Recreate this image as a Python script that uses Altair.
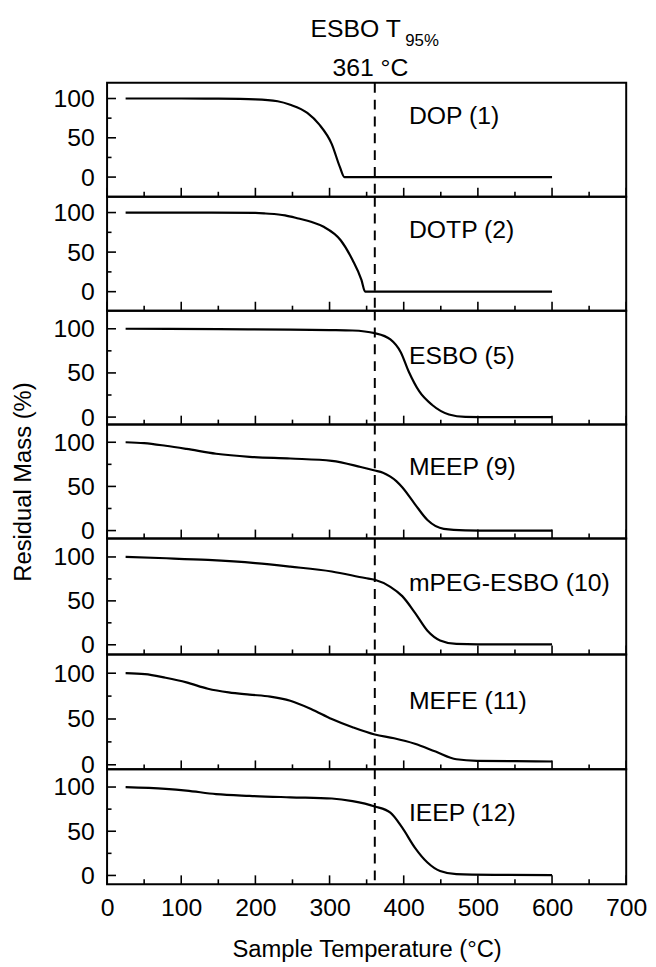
import altair as alt
import pandas as pd

FONT = "Liberation Sans"

# ---- data ----
NAMES = ["DOP (1)", "DOTP (2)", "ESBO (5)", "MEEP (9)", "mPEG-ESBO (10)", "MEFE (11)", "IEEP (12)"]

DOP_T = [25, 100, 150, 200, 230, 247, 270, 286, 303, 314, 320, 360, 450, 600]
DOP_M = [100, 100, 99.8, 99, 96.5, 92, 81.6, 67, 42, 12.6, 0, 0, 0, 0]

DOTP_T = [25, 100, 200, 214, 240, 258, 276, 292, 315, 331, 343, 348, 400, 500, 600]
DOTP_M = [100, 100, 99.5, 98.8, 96.5, 92.5, 88, 82, 65, 40, 15, 0, 0, 0, 0]

ESBO_T = [25, 150, 247, 300, 331, 361, 382, 396, 407, 421, 438, 461, 483, 520, 600]
ESBO_M = [100, 99.5, 99, 98.5, 98, 95, 88, 73.5, 51, 29, 14, 3, 0.3, 0, 0]

MEEP_T = [25, 50, 79, 107, 147, 192, 247, 303, 342, 361, 372, 382, 390, 398, 415, 432, 454, 483, 520, 600]
MEEP_M = [100, 99, 96, 92.5, 87, 83.5, 81.6, 79, 72, 68, 65.5, 61, 56, 49, 30, 12, 2, 0.3, 0, 0]

MPEG_T = [25, 80, 136, 200, 247, 303, 348, 361, 382, 398, 415, 432, 449, 471, 500, 600]
MPEG_M = [100, 98.5, 96.6, 93, 89, 83.5, 76, 74, 66, 55.4, 36.7, 16, 5, 1, 0.5, 0.5]

MEFE_T = [25, 51, 79, 107, 136, 164, 192, 220, 247, 275, 303, 331, 361, 387, 415, 443, 471, 499, 550, 600]
MEFE_M = [100, 99, 95, 90, 83, 79, 76.6, 74.5, 70, 61, 50, 41, 33, 29, 23, 14.4, 6, 4.3, 4, 3.6]

IEEP_T = [25, 79, 107, 147, 192, 247, 303, 331, 361, 382, 398, 415, 432, 449, 471, 527, 600]
IEEP_M = [100, 98, 96, 92, 90, 88.4, 87, 84, 78, 71, 54, 31.5, 14.6, 5, 1.5, 0.7, 0.4]

SERIES_T = [DOP_T, DOTP_T, ESBO_T, MEEP_T, MPEG_T, MEFE_T, IEEP_T]
SERIES_M = [DOP_M, DOTP_M, ESBO_M, MEEP_M, MPEG_M, MEFE_M, IEEP_M]

Y_DOMAINS = [[-25, 120], [-24, 120], [-8.5, 120.5], [-9, 120], [-11, 121], [-5, 120.5], [-10, 120]]
PANEL_H = [115, 115, 115, 115, 117, 116, 116]
LABEL_X = 407
LABEL_Y = [67, 67.5, 60.4, 62.4, 61, 61.2, 61.8]

T95 = 361
X_DOMAIN = [0, 700]
X_MAJOR = [0, 100, 200, 300, 400, 500, 600, 700]
X_MINOR = [50, 150, 250, 350, 450, 550, 650]
Y_MAJOR = [0, 50, 100]
Y_MINOR = [25, 75]

W = 524


def panel(i):
    h = PANEL_H[i]
    xs = alt.Scale(domain=X_DOMAIN, nice=False, zero=False)
    ys = alt.Scale(domain=Y_DOMAINS[i], nice=False, zero=False)
    df = pd.DataFrame({"T": SERIES_T[i], "M": SERIES_M[i]})

    last = i == len(NAMES) - 1
    if last:
        xaxis = alt.Axis(values=X_MAJOR, ticks=False, tickSize=0, domain=False, grid=False,
                         labelPadding=12, title="Sample Temperature (°C)", titlePadding=17,
                         labelFlush=False, labelFont=FONT, labelFontSize=25, labelColor="black",
                         titleFont=FONT, titleFontSize=24, titleColor="black",
                         titleFontWeight="normal")
    else:
        xaxis = None
    yaxis = alt.Axis(values=Y_MAJOR, ticks=False, tickSize=0, domain=False, grid=False,
                     labelPadding=13, title="Residual Mass (%)" if i == 3 else None,
                     titlePadding=18, labelFont=FONT, labelFontSize=25, labelColor="black",
                     titleFont=FONT, titleFontSize=24, titleColor="black",
                     titleFontWeight="normal")

    def X(field):
        return alt.X(field, scale=xs, axis=xaxis)

    def Y(field):
        return alt.Y(field, scale=ys, axis=yaxis)

    line = alt.Chart(df).mark_line(color="black", strokeWidth=2.2, interpolate="monotone").encode(
        x=X("T:Q"), y=Y("M:Q"),
    )
    vline = alt.Chart(pd.DataFrame({"T": [T95]})).mark_rule(
        color="black", strokeWidth=2, strokeDash=[10, 7]
    ).encode(x=X("T:Q"))

    xmaj = alt.Chart(pd.DataFrame({"T": X_MAJOR})).mark_rule(color="black", strokeWidth=1.6).encode(
        x=X("T:Q"), y=alt.value(h), y2=alt.value(h - 9))
    xmin = alt.Chart(pd.DataFrame({"T": X_MINOR})).mark_rule(color="black", strokeWidth=1.6).encode(
        x=X("T:Q"), y=alt.value(h), y2=alt.value(h - 5))
    ymaj = alt.Chart(pd.DataFrame({"M": Y_MAJOR})).mark_rule(color="black", strokeWidth=1.6).encode(
        y=Y("M:Q"), x=alt.value(0), x2=alt.value(9))
    ymin = alt.Chart(pd.DataFrame({"M": Y_MINOR})).mark_rule(color="black", strokeWidth=1.6).encode(
        y=Y("M:Q"), x=alt.value(0), x2=alt.value(4.5))

    lab = alt.Chart(pd.DataFrame({"name": [NAMES[i]], "T": [LABEL_X], "M": [LABEL_Y[i]]})).mark_text(
        align="left", baseline="alphabetic", font=FONT, fontSize=25, color="black"
    ).encode(x=X("T:Q"), y=Y("M:Q"), text="name:N")

    layers = [line, vline, xmaj, xmin, ymaj, ymin, lab]

    if i == 0:
        t1 = alt.Chart(pd.DataFrame({"s": ["ESBO T"], "T": [396]})).mark_text(
            align="right", baseline="alphabetic", font=FONT, fontSize=25, color="black"
        ).encode(x=X("T:Q"), y=alt.value(-46), text="s:N")
        t2 = alt.Chart(pd.DataFrame({"s": ["95%"], "T": [402]})).mark_text(
            align="left", baseline="alphabetic", font=FONT, fontSize=17, color="black"
        ).encode(x=X("T:Q"), y=alt.value(-37.5), text="s:N")
        t3 = alt.Chart(pd.DataFrame({"s": [f"{T95} °C"], "T": [355]})).mark_text(
            align="center", baseline="alphabetic", font=FONT, fontSize=25, color="black"
        ).encode(x=X("T:Q"), y=alt.value(-6.5), text="s:N")
        layers += [t1, t2, t3]

    return alt.layer(*layers).properties(width=W, height=h)


chart = alt.vconcat(*[panel(i) for i in range(len(NAMES))], spacing=0, bounds="flush").properties(
    padding={"left": 2, "top": 4, "right": 0, "bottom": 0},
    background="white",
).configure_view(
    stroke="black", strokeWidth=2
).configure_concat(spacing=0)

chart.save("out.html", embed_options={"renderer": "svg", "actions": False})
